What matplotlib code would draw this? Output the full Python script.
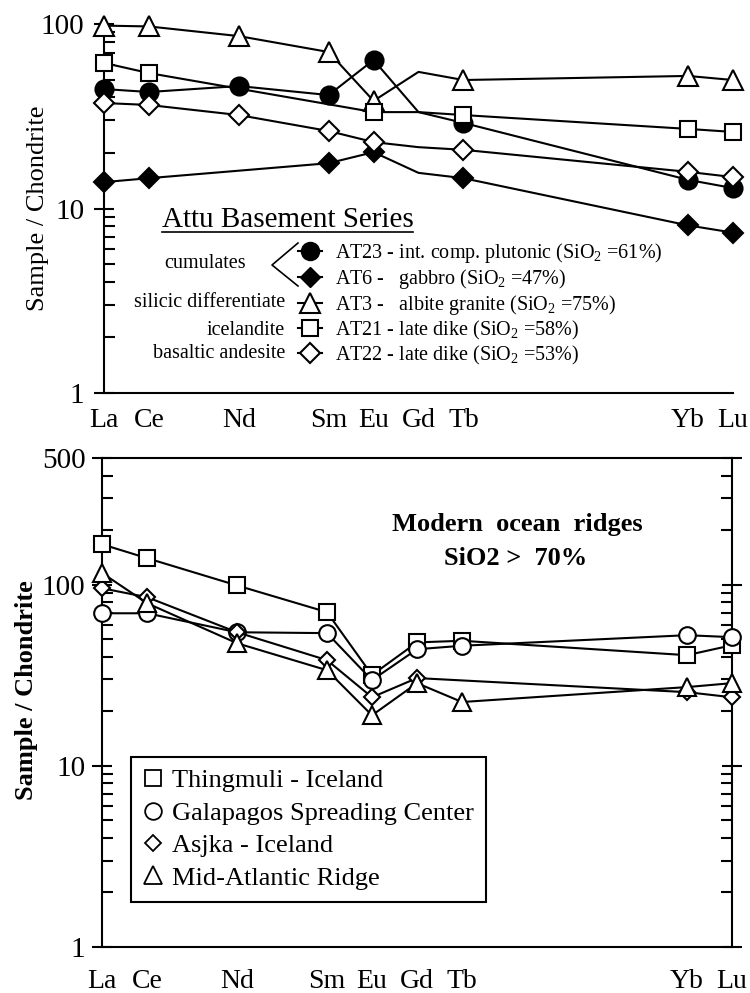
import numpy as np
import matplotlib
# Use the non-interactive Agg backend
matplotlib.use('Agg')
import matplotlib.pyplot as plt
from matplotlib.lines import Line2D
from matplotlib.ticker import LogLocator, NullFormatter

plt.rcParams['font.family'] = ['Liberation Serif', 'DejaVu Serif']
plt.rcParams['mathtext.fontset'] = 'custom'
plt.rcParams['mathtext.rm'] = 'Liberation Serif'
plt.rcParams['mathtext.it'] = 'Liberation Serif:italic'
plt.rcParams['mathtext.bf'] = 'Liberation Serif:bold'

# REE, plotted against atomic number
ree = ["La", "Ce", "Nd", "Sm", "Eu", "Gd", "Tb", "Yb", "Lu"]
ree_z = [57, 58, 60, 62, 63, 64, 65, 70, 71]
top_ticked = ["Ce", "Nd", "Sm", "Eu", "Tb", "Yb", "Lu"]
bottom_ticked = ["Ce", "Nd", "Sm", "Eu", "Gd", "Tb", "Yb"]

# Attu basement series, sample / chondrite (nan = not determined)
at23 = [44.4, 42.8, 46.1, 41.2, 63.8, 33.3, 29.1, 14.3, 12.9]
at6 = [13.9, 14.6, np.nan, 17.6, 20.2, 15.6, 14.6, 8.1, 7.4]
at3 = [98.0, 97.0, 86.0, 70.5, 38.3, 55.0, 49.7, 52.3, 49.7]
at21 = [61.5, 54.2, np.nan, np.nan, 33.3, 33.3, 32.1, 27.0, 26.0]
at22 = [37.3, 36.4, 32.1, 26.3, 22.9, 21.5, 20.8, 15.8, 14.8]

# modern ocean ridge silicic rocks
thingmuli = [167.0, 140.0, 99.0, 70.5, 31.7, 48.0, 49.0, 40.8, 46.3]
galapagos = [69.5, 69.5, 54.6, 54.0, 29.7, 44.0, 46.0, 52.6, 51.3]
asjka = [95.5, 85.3, 54.6, 38.3, 23.9, 30.5, np.nan, 25.5, 23.9]
mid_atlantic = [116.0, 79.0, 47.5, 33.7, 19.0, 28.6, 22.5, 27.2, 28.6]

attu_labels = [
    "AT23 - int. comp. plutonic (SiO$_2$ =61%)",
    "AT6 -   gabbro (SiO$_2$ =47%)",
    "AT3 -   albite granite (SiO$_2$ =75%)",
    "AT21 - late dike (SiO$_2$ =58%)",
    "AT22 - late dike (SiO$_2$ =53%)",
]
ridge_labels = ["Thingmuli - Iceland", "Galapagos Spreading Center",
                "Asjka - Iceland", "Mid-Atlantic Ridge"]


def draw_series(ax, values, marker, ms, filled, marker_skip=()):
    z = np.array(ree_z, dtype=float)
    v = np.array(values, dtype=float)
    ok = ~np.isnan(v)
    names = [n for n, k in zip(ree, ok) if k]
    every = [i for i, n in enumerate(names) if n not in marker_skip]
    ax.plot(z[ok], v[ok], color="black", lw=1.5, marker=marker, ms=ms,
            mfc="black" if filled else "white", mec="black", mew=1.5,
            markevery=every, clip_on=False, zorder=3)


def style_axes(ax, ymax, ticked, full_frame, xlab_pad, ylab_pad, ylabels):
    ax.set_xlim(57, 71)
    ax.set_yscale("log")
    ax.set_ylim(1, ymax)
    ax.set_yticks([float(t) for t in ylabels], labels=ylabels)
    ax.yaxis.set_minor_locator(LogLocator(base=10, subs=range(2, 10)))
    ax.yaxis.set_minor_formatter(NullFormatter())
    ax.tick_params(axis="y", which="major", direction="inout", length=14,
                   width=1.5, labelsize=21, pad=ylab_pad, right=full_frame)
    ax.tick_params(axis="y", which="minor", direction="in", length=8,
                   width=1.5, right=full_frame)
    # element names as labels, tick marks only where drawn
    ax.set_xticks(ree_z, labels=ree)
    ax.set_xticks([z for z, n in zip(ree_z, ree) if n in ticked], minor=True)
    ax.tick_params(axis="x", which="major", length=0, labelsize=20, pad=xlab_pad)
    ax.tick_params(axis="x", which="minor", direction="in", length=14.5,
                   width=1.5, top=full_frame)
    for side in ["left", "bottom", "top", "right"]:
        ax.spines[side].set_linewidth(1.5)
    if not full_frame:
        ax.spines["top"].set_visible(False)
        ax.spines["right"].set_visible(False)


fig = plt.figure(figsize=(7.5, 9.93), dpi=100)

# ------------------ Upper panel: Attu basement series ------------------
ax1 = fig.add_axes([0.13867, 0.60423, 0.83867, 0.37160])
style_axes(ax1, 100, top_ticked, False, 11, 7, ["1", "10", "100"])

draw_series(ax1, at23, "o", 13, True, marker_skip=("Gd",))
draw_series(ax1, at6, "D", 10, True, marker_skip=("Gd",))
draw_series(ax1, at3, "^", 14, False, marker_skip=("Gd",))
draw_series(ax1, at21, "s", 11.5, False, marker_skip=("Gd",))
draw_series(ax1, at22, "D", 10, False, marker_skip=("Gd",))

attu_handles = [
    Line2D([], [], color="black", lw=1.5, marker="o", ms=13, mfc="black", mec="black"),
    Line2D([], [], color="black", lw=1.5, marker="D", ms=10, mfc="black", mec="black"),
    Line2D([], [], color="black", lw=1.5, marker="^", ms=14, mfc="white", mec="black", mew=1.5),
    Line2D([], [], color="black", lw=1.5, marker="s", ms=11.5, mfc="white", mec="black", mew=1.5),
    Line2D([], [], color="black", lw=1.5, marker="D", ms=10, mfc="white", mec="black", mew=1.5),
]
ax1.legend(attu_handles, attu_labels, loc="upper left",
           bbox_to_anchor=(0.3084, 0.4106), frameon=False, fontsize=14.5,
           handlelength=1.2, handletextpad=0.65, labelspacing=0.09,
           borderpad=0, borderaxespad=0)

ax1.text(0.2917, 0.4688, "Attu Basement Series", transform=ax1.transAxes,
         ha="center", va="center", fontsize=21)
ax1.plot([0.0922, 0.4913], [0.4363, 0.4363], transform=ax1.transAxes,
         color="black", lw=1.2, clip_on=False)
ax1.text(0.1606, 0.3523, "cumulates", transform=ax1.transAxes,
         ha="center", va="center", fontsize=14.5)
ax1.plot([0.3084, 0.2671, 0.3084], [0.4065, 0.3469, 0.2900],
         transform=ax1.transAxes, color="black", lw=1.2, clip_on=False)
for txt, yy in [("silicic differentiate", 0.2466), ("icelandite", 0.1707),
                ("basaltic andesite", 0.1084)]:
    ax1.text(0.2878, yy, txt, transform=ax1.transAxes, ha="right",
             va="center", fontsize=14.5)

fig.text(0.0507, 0.7905, "Sample / Chondrite", rotation=90,
         ha="center", va="center", fontsize=19)

# ------------------ Lower panel: modern ocean ridges ------------------
ax2 = fig.add_axes([0.136, 0.04632, 0.84, 0.49245])
style_axes(ax2, 500, bottom_ticked, True, 16, 5, ["1", "10", "100", "500"])

draw_series(ax2, thingmuli, "s", 11, False)
draw_series(ax2, galapagos, "o", 12, False)
draw_series(ax2, asjka, "D", 8.5, False)
draw_series(ax2, mid_atlantic, "^", 12.5, False)

ridge_handles = [
    Line2D([], [], ls="none", marker="s", ms=11, mfc="white", mec="black", mew=1.3),
    Line2D([], [], ls="none", marker="o", ms=12, mfc="white", mec="black", mew=1.3),
    Line2D([], [], ls="none", marker="D", ms=8.5, mfc="white", mec="black", mew=1.3),
    Line2D([], [], ls="none", marker="^", ms=12.5, mfc="white", mec="black", mew=1.3),
]
leg = ax2.legend(ridge_handles, ridge_labels, loc="upper left",
                 bbox_to_anchor=(0.046, 0.3885), fontsize=19, fancybox=False,
                 edgecolor="black", framealpha=1, handlelength=0.8,
                 handletextpad=0.3, labelspacing=0.34, borderpad=0.45,
                 borderaxespad=0)
leg.get_frame().set_linewidth(1.5)

ax2.text(0.659, 0.863, "Modern  ocean  ridges", transform=ax2.transAxes,
         ha="center", va="center", fontsize=19, fontweight="bold")
ax2.text(0.657, 0.7955, "SiO2 >  70%", transform=ax2.transAxes,
         ha="center", va="center", fontsize=19, fontweight="bold")

fig.text(0.036, 0.305, "Sample / Chondrite", rotation=90,
         ha="center", va="center", fontsize=19, fontweight="bold")

plt.savefig("out.png", dpi=100)
plt.close()
